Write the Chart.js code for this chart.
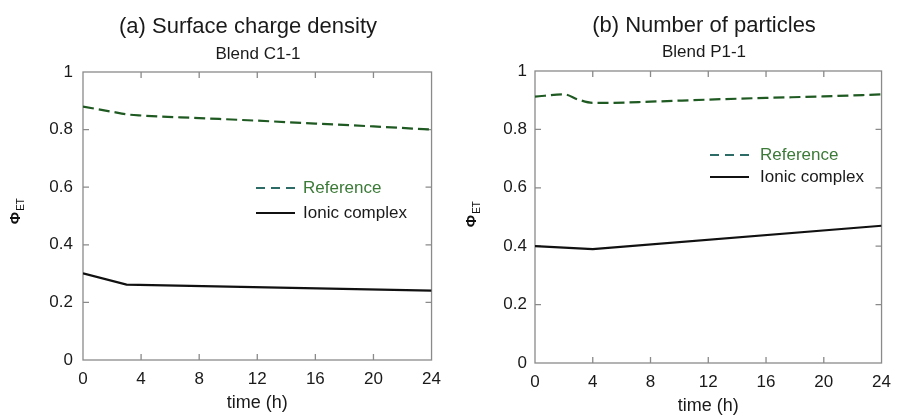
<!DOCTYPE html>
<html>
<head>
<meta charset="utf-8">
<script src="https://cdn.jsdelivr.net/npm/chart.js@4.4.1/dist/chart.umd.min.js"></script>
<style>
  body { margin: 0; background: #fff; }
  .panel { position: absolute; top: 0; width: 450px; height: 417px; }
</style>
</head>
<body>
<div class="panel" style="left:0"><canvas id="chartA"></canvas></div>
<div class="panel" style="left:450px"><canvas id="chartB"></canvas></div>
<script>
// tick labels
const xTicks = [0, 4, 8, 12, 16, 20, 24];
const yTicks = [0, 0.2, 0.4, 0.6, 0.8, 1];
const seriesNames = ["Reference", "Ionic complex"];

// (a) Surface charge density, Blend C1-1
const timeRefA = [0, 2, 3, 4, 8, 12, 16, 20, 24];
const refA = [0.88, 0.862, 0.853, 0.849, 0.84, 0.831, 0.821, 0.811, 0.8];
const timeIonA = [0, 3, 24];
const ionA = [0.301, 0.262, 0.241];

// (b) Number of particles, Blend P1-1
const timeRefB = [0, 2, 3, 4, 5, 8, 12, 16, 20, 24];
const refB = [0.912, 0.92, 0.902, 0.891, 0.891, 0.895, 0.902, 0.908, 0.913, 0.92];
const timeIonB = [0, 4, 24];
const ionB = [0.40, 0.39, 0.47];

const FONT = '"Liberation Sans", Arial, sans-serif';
const REF_COLOR = "#1f5a22";

function toPoints(xs, ys) {
  return xs.map((x, i) => ({ x: x, y: ys[i] }));
}

// frame, inward ticks, titles, y label and legend
const panelPlugin = {
  id: "panel",
  beforeDatasetsDraw(chart, args, opts) {
    const { ctx, chartArea: a, scales: { x, y } } = chart;
    ctx.save();
    ctx.strokeStyle = "#8a8a8a";
    ctx.lineWidth = 1.3;
    ctx.strokeRect(a.left, a.top, a.right - a.left, a.bottom - a.top);
    ctx.beginPath();
    x.ticks.forEach(t => {
      const px = x.getPixelForValue(t.value);
      if (px <= a.left + 1 || px >= a.right - 1) return;
      ctx.moveTo(px, a.bottom); ctx.lineTo(px, a.bottom - 6);
      ctx.moveTo(px, a.top); ctx.lineTo(px, a.top + 6);
    });
    y.ticks.forEach(t => {
      const py = y.getPixelForValue(t.value);
      if (py <= a.top + 1 || py >= a.bottom - 1) return;
      ctx.moveTo(a.left, py); ctx.lineTo(a.left + 6, py);
      ctx.moveTo(a.right, py); ctx.lineTo(a.right - 6, py);
    });
    ctx.stroke();
    ctx.restore();
  },
  afterDraw(chart, args, opts) {
    const ctx = chart.ctx;
    ctx.save();
    ctx.fillStyle = "#1a1a1a";
    ctx.textAlign = "center";
    ctx.textBaseline = "alphabetic";
    ctx.font = "22px " + FONT;
    ctx.fillText(opts.title, opts.titleX, opts.titleY);
    ctx.font = "17px " + FONT;
    ctx.fillText(opts.subtitle, opts.subX, opts.subY);

    // y axis label: Phi with subscript ET
    ctx.save();
    ctx.translate(opts.labelX, opts.labelY);
    ctx.rotate(-Math.PI / 2);
    ctx.textAlign = "left";
    ctx.textBaseline = "middle";
    ctx.font = "bold 15px " + FONT;
    const wPhi = ctx.measureText("\u03A6").width;
    ctx.fillStyle = "#111";
    ctx.fillText("\u03A6", -wPhi / 2, 0);
    ctx.font = "10px " + FONT;
    ctx.fillText("ET", wPhi / 2 + 1, 5);
    ctx.restore();

    // legend
    const lx = opts.legendX, ly = opts.legendY, gap = opts.legendGap;
    ctx.lineWidth = 2;
    ctx.strokeStyle = "#2d6b66";
    ctx.setLineDash([9, 6]);
    ctx.beginPath(); ctx.moveTo(lx, ly); ctx.lineTo(lx + 39, ly); ctx.stroke();
    ctx.setLineDash([]);
    ctx.strokeStyle = "#111";
    ctx.beginPath(); ctx.moveTo(lx, ly + gap); ctx.lineTo(lx + 39, ly + gap); ctx.stroke();
    ctx.font = "17px " + FONT;
    ctx.textAlign = "left";
    ctx.textBaseline = "middle";
    ctx.fillStyle = "#3b7a37";
    ctx.fillText(seriesNames[0], lx + opts.textOffset, ly);
    ctx.fillStyle = "#1a1a1a";
    ctx.fillText(seriesNames[1], lx + opts.textOffset, ly + gap);
    ctx.restore();
  }
};

function createChart(id, ref, ion, geo, text) {
  const ctx = document.getElementById(id).getContext("2d");
  return new Chart(ctx, {
    type: "line",
    data: {
      datasets: [
        {
          label: seriesNames[0],
          data: ref,
          borderColor: REF_COLOR,
          borderWidth: 2.2,
          borderDash: [11, 5],
          pointRadius: 0,
          cubicInterpolationMode: "monotone",
          fill: false,
        },
        {
          label: seriesNames[1],
          data: ion,
          borderColor: "#111",
          borderWidth: 2.2,
          pointRadius: 0,
          tension: 0,
          fill: false,
        },
      ],
    },
    options: {
      responsive: true,
      maintainAspectRatio: false,
      animation: false,
      layout: { padding: { top: geo.top, right: geo.right, bottom: 0, left: 0 } },
      scales: {
        x: {
          type: "linear",
          min: 0,
          max: 24,
          afterBuildTicks: s => { s.ticks = xTicks.map(v => ({ value: v })); },
          afterFit: s => { s.height = geo.xHeight; },
          grid: { display: false, drawTicks: false },
          border: { display: false },
          ticks: {
            color: "#1a1a1a", font: { family: FONT, size: 17 }, padding: geo.xPad, maxRotation: 0,
            callback: v => String(v),
          },
          title: {
            display: true,
            text: "time (h)",
            color: "#1a1a1a",
            font: { family: FONT, size: 18 },
            padding: { top: 0, bottom: geo.titlePad },
          },
        },
        y: {
          min: 0,
          max: 1,
          afterBuildTicks: s => { s.ticks = yTicks.map(v => ({ value: v })); },
          afterFit: s => { s.width = geo.yWidth; },
          grid: { display: false, drawTicks: false },
          border: { display: false },
          ticks: {
            color: "#1a1a1a", font: { family: FONT, size: 17 }, padding: geo.yPad,
            callback: v => String(v),
          },
        },
      },
      plugins: {
        legend: { display: false },
        tooltip: { enabled: false },
        panel: text,
      },
    },
    plugins: [panelPlugin],
  });
}

createChart("chartA", toPoints(timeRefA, refA), toPoints(timeIonA, ionA),
  { top: 72, right: 17, xHeight: 57, yWidth: 83, xPad: 9, yPad: 10, titlePad: 3 },
  { title: "(a) Surface charge density", titleX: 248, titleY: 33,
    subtitle: "Blend C1-1", subX: 258, subY: 59,
    labelX: 16, labelY: 218,
    legendX: 256, legendY: 188, legendGap: 25, textOffset: 47 });

createChart("chartB", toPoints(timeRefB, refB), toPoints(timeIonB, ionB),
  { top: 71, right: 10, xHeight: 54, yWidth: 85, xPad: 9, yPad: 8, titlePad: 0 },
  { title: "(b) Number of particles", titleX: 254, titleY: 32,
    subtitle: "Blend P1-1", subX: 254, subY: 57,
    labelX: 22, labelY: 221,
    legendX: 260, legendY: 155, legendGap: 22, textOffset: 50 });
</script>
</body>
</html>
